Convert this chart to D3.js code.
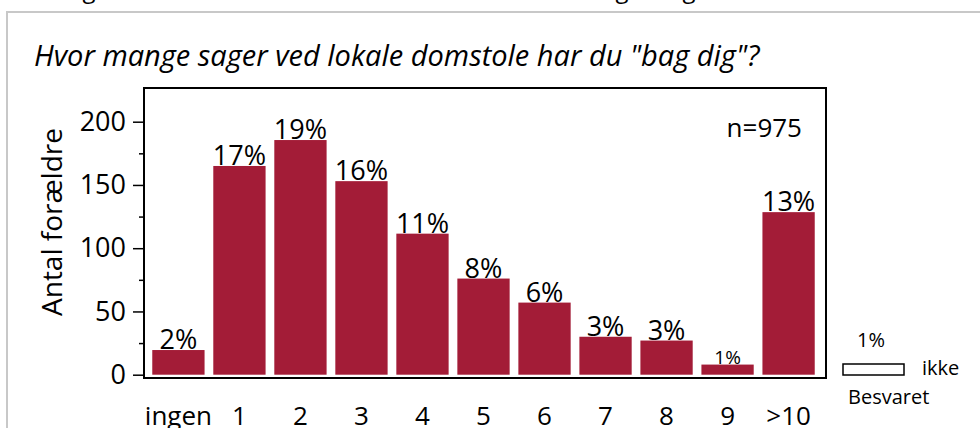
<!DOCTYPE html>
<html>
<head>
<meta charset="utf-8">
<script src="https://cdn.jsdelivr.net/npm/d3@7"></script>
<style>
  body { margin: 0; background: #fff; }
  text { font-family: "Open Sans", "Noto Sans", sans-serif; fill: #000; }
</style>
</head>
<body>
<div id="chart"></div>
<script>
// data
var categories = ["ingen", "1", "2", "3", "4", "5", "6", "7", "8", "9", ">10"];
var counts = [19.5, 165, 185.5, 153, 111.5, 76, 57, 30, 27, 8, 128.5];
var pctLabels = ["2%", "17%", "19%", "16%", "11%", "8%", "6%", "3%", "3%", "1%", "13%"];
var yTicks = [0, 50, 100, 150, 200];
var yMinorTicks = [25, 75, 125, 175];
var missingPct = "1%";
var missingLabels = ["ikke", "Besvaret"];
var title = "Hvor mange sager ved lokale domstole har du \"bag dig\"?";
var yTitle = "Antal forældre";
var nLabel = "n=975";

var W = 980, H = 428;
var barColor = "#a31c37";

var svg = d3.select("#chart").append("svg")
    .attr("width", W)
    .attr("height", H);

// clipped line of text from above the frame (only descenders visible)
[89, 622, 689].forEach(function(px){
    svg.append("text").attr("x", px).attr("y", -2)
        .attr("text-anchor", "middle").style("font-size", "24px").text("g");
});

// grey outer frame
svg.append("rect")
    .attr("x", 7).attr("y", 12)
    .attr("width", 1200).attr("height", 600)
    .attr("fill", "none").attr("stroke", "#c8c8c8").attr("stroke-width", 2);

svg.append("text")
    .attr("x", 34).attr("y", 66)
    .style("font-size", "29px").style("font-style", "italic")
    .text(title);

var plot = {left: 144, right: 826, top: 88, bottom: 378};

var x = d3.scaleBand()
    .domain(categories)
    .range([148, 819])
    .paddingInner(0.143)
    .paddingOuter(0.07);

var y = d3.scaleLinear()
    .domain([0, 200])
    .range([374.7, 121.7]);

// bars
svg.append("g").selectAll("rect")
    .data(counts)
    .enter().append("rect")
        .attr("x", function(d, i){ return x(categories[i]); })
        .attr("width", x.bandwidth())
        .attr("y", function(d){ return y(d); })
        .attr("height", function(d){ return y(0) - y(d); })
        .attr("fill", barColor);

// frame
svg.append("rect")
    .attr("x", plot.left).attr("y", plot.top)
    .attr("width", plot.right - plot.left)
    .attr("height", plot.bottom - plot.top)
    .attr("fill", "none").attr("stroke", "#000").attr("stroke-width", 2);

// y axis
var yAxis = svg.append("g")
    .attr("transform", "translate(" + plot.left + ",0)")
    .call(d3.axisLeft(y).tickValues(yTicks).tickSize(11).tickPadding(7));
yAxis.select(".domain").remove();
yAxis.selectAll("line").attr("stroke-width", 1.5);
yAxis.selectAll("text").style("font-size", "27px").attr("font-family", null);

var yMinor = svg.append("g")
    .attr("transform", "translate(" + plot.left + ",0)")
    .call(d3.axisLeft(y).tickValues(yMinorTicks).tickSize(5).tickFormat(""));
yMinor.select(".domain").remove();
yMinor.selectAll("line").attr("stroke-width", 1.5);

svg.append("text")
    .attr("transform", "translate(62,222) rotate(-90)")
    .attr("text-anchor", "middle")
    .style("font-size", "28px")
    .text(yTitle);

// x labels
var xAxis = svg.append("g")
    .attr("transform", "translate(0," + plot.bottom + ")")
    .call(d3.axisBottom(x).tickSize(0));
xAxis.select(".domain").remove();
xAxis.selectAll("text").style("font-size", "26px").attr("font-family", null)
    .attr("dy", null).attr("y", 47);

// percent labels
svg.append("g").selectAll("text")
    .data(counts)
    .enter().append("text")
        .attr("x", function(d, i){ return x(categories[i]) + x.bandwidth() / 2; })
        .attr("y", function(d){ return y(d) - 1; })
        .attr("text-anchor", "middle")
        .style("font-size", function(d, i){ return i == 9 ? "19px" : "27px"; })
        .text(function(d, i){ return pctLabels[i]; });

svg.append("text")
    .attr("x", 802).attr("y", 137)
    .attr("text-anchor", "end")
    .style("font-size", "26px")
    .text(nLabel);

// unanswered legend
svg.append("text").attr("x", 871).attr("y", 347)
    .attr("text-anchor", "middle").style("font-size", "20px").text(missingPct);
svg.append("rect")
    .attr("x", 843).attr("y", 364).attr("width", 61).attr("height", 11)
    .attr("fill", "#fff").attr("stroke", "#000").attr("stroke-width", 1.5);
svg.append("text").attr("x", 922).attr("y", 375)
    .style("font-size", "20px").text(missingLabels[0]);
svg.append("text").attr("x", 848).attr("y", 404)
    .style("font-size", "20px").text(missingLabels[1]);
</script>
</body>
</html>
